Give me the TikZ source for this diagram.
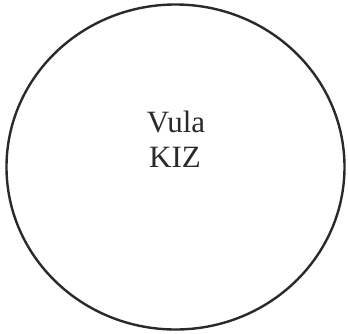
\documentclass[tikz,border=0pt]{standalone}
\usepackage{fontspec}
\setmainfont{Liberation Serif}
\usetikzlibrary{shapes.geometric}
\definecolor{ink}{HTML}{2A2A2A}
\begin{document}
\begin{tikzpicture}[x=1pt,y=1pt,
  lbl/.style={inner sep=0pt, anchor=base, text=ink, font=\fontsize{31}{36}\selectfont}]
\useasboundingbox (0,0) rectangle (348,333);
\node[draw=ink, line width=2.4pt, ellipse, minimum width=338pt, minimum height=325pt, inner sep=0pt] (c) at (175.5,166) {};
\node[lbl] (v) at (176,201) {Vula};
\node[lbl] (k) at (175,166) {KIZ};
\end{tikzpicture}
\end{document}
